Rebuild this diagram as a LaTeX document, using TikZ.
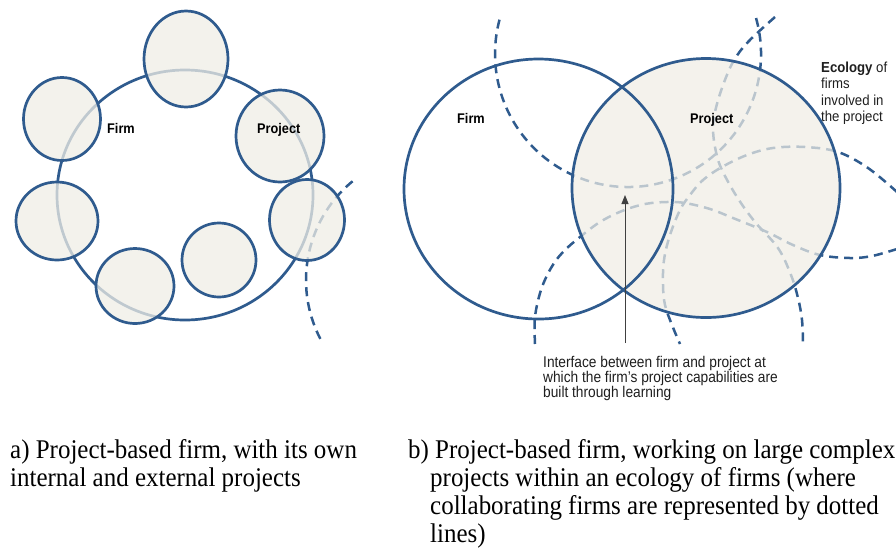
\documentclass[tikz,border=0pt]{standalone}
\usepackage{fontspec}
\setmainfont[FakeStretch=0.925]{Liberation Serif}
\newfontfamily\lsans[FakeStretch=0.91]{Liberation Sans}
\newfontfamily\nsans[FakeStretch=0.885]{Liberation Sans}
\usetikzlibrary{arrows.meta}
\definecolor{eblue}{HTML}{2F5B8E}
\definecolor{ebeige}{HTML}{F0EEE6}
\begin{document}
\begin{tikzpicture}[x=1pt,y=-1pt,
  bl/.style={draw=eblue, line width=2.7pt},
  sm/.style={draw=eblue, line width=2.7pt, fill=ebeige, fill opacity=0.75},
  eco/.style={draw=eblue, line width=2.5pt, dash pattern=on 9pt off 6pt},
  lab/.style={font=\lsans\bfseries\fontsize{14}{16}\selectfont, inner sep=0pt, anchor=base west},
  note/.style={font=\lsans\fontsize{14.5}{15}\selectfont, inner sep=0pt, anchor=base west, text=black!88},
  ifnote/.style={font=\nsans\fontsize{15.5}{15}\selectfont, inner sep=0pt, anchor=base west, text=black!88},
  captxt/.style={font=\fontsize{27}{28}\selectfont, inner sep=0pt, anchor=base west}]
\useasboundingbox[fill=white] (0,0) rectangle (896,547);

% ---------- a) ----------
\draw[bl] (185,195) ellipse[x radius=128, y radius=125];
\draw[eco] (434,280) ++(152.6:128) arc[start angle=152.6, end angle=232.2, radius=128];
\path[sm] (186,59) ellipse[x radius=42, y radius=48];
\path[sm] (62,119) ellipse[x radius=38.5, y radius=41.5];
\path[sm] (280,136) ellipse[x radius=44, y radius=46];
\path[sm] (57,221) ellipse[x radius=41, y radius=39];
\path[sm] (307,220) ellipse[x radius=37.5, y radius=40.5];
\path[sm] (219,260) ellipse[x radius=37, y radius=37];
\path[sm] (135,286) ellipse[x radius=39, y radius=37.5];
\node[lab] (lfirm) at (107,133) {Firm};
\node[lab] (lproj) at (257,133) {Project};

% ---------- b) ----------
\draw[eco] (628,54) ++(-15.7:133) arc[start angle=-15.7, end angle=195.7, radius=133];
\draw[eco] plot[smooth, tension=0.6] coordinates {(897,192) (868,168) (838,152) (805,147) (773,148) (747,155) (722,167) (703,180) (690,195) (680,210) (670,235) (664,260) (663,285) (665,305) (672,325) (680,344)};
\draw[eco] plot[smooth, tension=0.6] coordinates {(535,344) (535,317) (541,290) (551,268) (563,252) (580,237) (600,222) (622,211) (645,204) (667,202) (685,203) (710,209) (733,218) (767,232) (793,245) (820,255) (850,258) (872,256) (897,249)};
\draw[eco] plot[smooth, tension=0.6] coordinates {(775,17) (748,42) (733,62) (722,88) (715,112) (713,130) (716,152) (722,170) (737,197) (755,222) (778,248) (791,275) (798,298) (802,320) (803,344)};
\path[fill=ebeige, fill opacity=0.72] (706,188) ellipse[x radius=134, y radius=129.5];
\draw[bl] (538.5,189) ellipse[x radius=134.5, y radius=130];
\draw[bl] (706,188) ellipse[x radius=134, y radius=129.5];
\node[lab] (rfirm) at (457,123) {Firm};
\node[lab] (rproj) at (690,123) {Project};
\node[note] (eco1) at (821,72) {\textbf{Ecology} of};
\node[note] (eco2) at (821,88) {firms};
\node[note] (eco3) at (821,105) {involved in};
\node[note] (eco4) at (821,121) {the project};

\coordinate (ifbase) at (625,343);
\coordinate (iftip) at (625,195);
\draw[draw=black!75, line width=0.9pt, -{Triangle[length=9pt,width=7pt]}] (ifbase) -- (iftip);
\node[ifnote] (if1) at (543,367) {Interface between firm and project at};
\node[ifnote] (if2) at (543,382) {which the firm’s project capabilities are};
\node[ifnote] (if3) at (543,397) {built through learning};

% ---------- captions ----------
\node[captxt] (cap1) at (10,458) {a) Project-based firm, with its own};
\node[captxt] (cap2) at (10,486) {internal and external projects};
\node[captxt] (cap3) at (408,458) {b) Project-based firm, working on large complex};
\node[captxt] (cap4) at (430,486) {projects within an ecology of firms (where};
\node[captxt] (cap5) at (430,514) {collaborating firms are represented by dotted};
\node[captxt] (cap6) at (430,542) {lines)};
\end{tikzpicture}
\end{document}
